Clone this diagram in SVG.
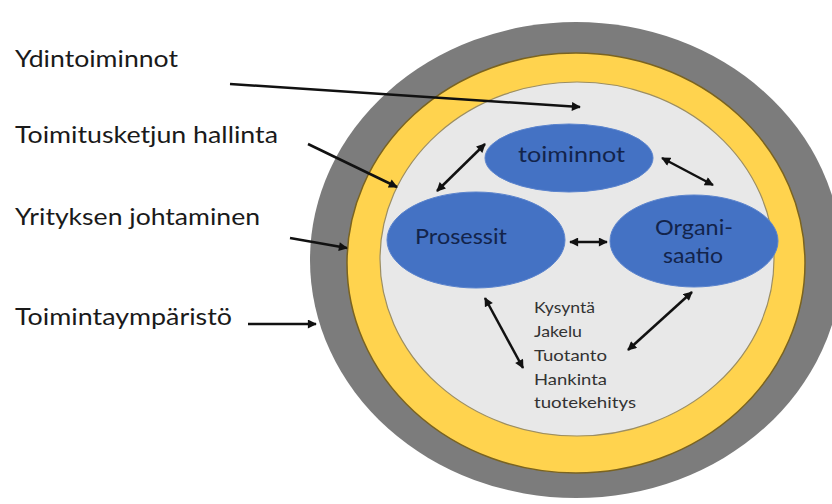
<svg xmlns="http://www.w3.org/2000/svg" width="832" height="504" viewBox="0 0 832 504">
<style>
.lbl{font-family:Lato,"Liberation Sans",sans-serif;font-size:23px;fill:#1a1a1a}
.in{font-family:Lato,"Liberation Sans",sans-serif;font-size:21px;fill:#13244b;text-anchor:start}
.lst{font-family:Lato,"Liberation Sans",sans-serif;font-size:16px;fill:#333}
.blue{fill:#4472c4;stroke:#5a83cd;stroke-width:1}
.ar{stroke:#111;stroke-width:2.5;fill:none}
</style>
<defs>
<marker id="ah" viewBox="0 0 10 10" refX="9" refY="5" markerWidth="10" markerHeight="9" markerUnits="userSpaceOnUse" orient="auto-start-reverse">
<path d="M0,0 L10,5 L0,10 z" fill="#111"/>
</marker>
</defs>
<rect width="832" height="504" fill="#fff"/>
<g id="rings">
<ellipse id="outer" cx="576" cy="260" rx="266" ry="238" fill="#7c7c7c"/>
<ellipse id="yellow" cx="576" cy="263" rx="229" ry="210" fill="#ffd34e" stroke="#7a6320" stroke-width="1.5"/>
<ellipse id="core" cx="577" cy="259" rx="197" ry="177" fill="#e8e8e8" stroke="#9c8e62" stroke-width="1.2"/>
</g>
<g id="n-toiminnot">
<ellipse class="blue" cx="569" cy="158" rx="84" ry="34"/>
<text class="in" x="518" y="162" textLength="107" lengthAdjust="spacingAndGlyphs">toiminnot</text>
</g>
<g id="n-prosessit">
<ellipse class="blue" cx="476" cy="240" rx="89" ry="48"/>
<text class="in" x="415" y="244" textLength="92" lengthAdjust="spacingAndGlyphs">Prosessit</text>
</g>
<g id="n-organisaatio">
<ellipse class="blue" cx="694" cy="241" rx="84" ry="46"/>
<text class="in" x="655" y="235" textLength="78" lengthAdjust="spacingAndGlyphs">Organi-</text>
<text class="in" x="663" y="263" textLength="60" lengthAdjust="spacingAndGlyphs">saatio</text>
</g>
<g id="n-list">
<text class="lst" x="534" y="313" textLength="61" lengthAdjust="spacingAndGlyphs">Kysyntä</text>
<text class="lst" x="534" y="337" textLength="48" lengthAdjust="spacingAndGlyphs">Jakelu</text>
<text class="lst" x="534" y="361" textLength="73" lengthAdjust="spacingAndGlyphs">Tuotanto</text>
<text class="lst" x="534" y="385" textLength="73" lengthAdjust="spacingAndGlyphs">Hankinta</text>
<text class="lst" x="534" y="408" textLength="102" lengthAdjust="spacingAndGlyphs">tuotekehitys</text>
</g>
<g id="labels">
<text id="l-ydin" class="lbl" x="15" y="67" textLength="163" lengthAdjust="spacingAndGlyphs">Ydintoiminnot</text>
<text id="l-toimitus" class="lbl" x="15" y="143" textLength="263" lengthAdjust="spacingAndGlyphs">Toimitusketjun hallinta</text>
<text id="l-yritys" class="lbl" x="15" y="225" textLength="245" lengthAdjust="spacingAndGlyphs">Yrityksen johtaminen</text>
<text id="l-ymparisto" class="lbl" x="15" y="325" textLength="217" lengthAdjust="spacingAndGlyphs">Toimintaympäristö</text>
</g>
<g id="connectors">
<line class="ar" x1="230" y1="84" x2="580" y2="107" marker-end="url(#ah)"/>
<line class="ar" x1="308" y1="144" x2="397" y2="187" marker-end="url(#ah)"/>
<line class="ar" x1="290" y1="238" x2="347" y2="248" marker-end="url(#ah)"/>
<line class="ar" x1="248" y1="324" x2="316" y2="324" marker-end="url(#ah)"/>
<line class="ar" x1="485" y1="144" x2="437" y2="191" marker-start="url(#ah)" marker-end="url(#ah)"/>
<line class="ar" x1="662" y1="158" x2="713" y2="185" marker-start="url(#ah)" marker-end="url(#ah)"/>
<line class="ar" x1="570" y1="242" x2="607" y2="242" marker-start="url(#ah)" marker-end="url(#ah)"/>
<line class="ar" x1="485" y1="298" x2="523" y2="368" marker-start="url(#ah)" marker-end="url(#ah)"/>
<line class="ar" x1="692" y1="292" x2="628" y2="350" marker-start="url(#ah)" marker-end="url(#ah)"/>
</g>
</svg>
